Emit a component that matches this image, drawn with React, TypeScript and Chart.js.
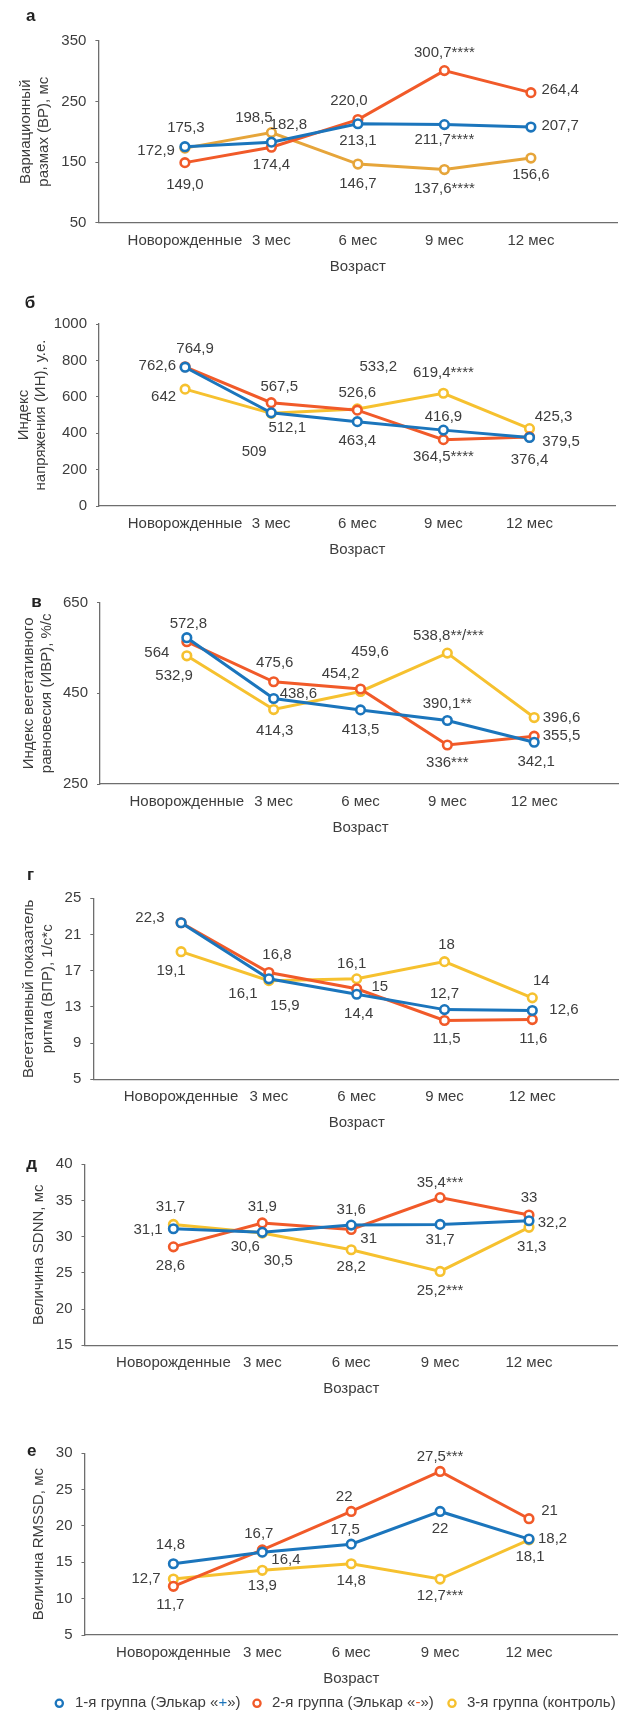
import React, { useEffect, useRef } from 'react';
import { Chart, registerables } from 'chart.js';

Chart.register(...registerables);

// ---------- shared data ----------
const categories = ['Новорожденные', '3 мес', '6 мес', '9 мес', '12 мес'];
const xAxisTitle = 'Возраст';
const groupNames = ['1-я группа (Элькар «+»)', '2-я группа (Элькар «-»)', '3-я группа (контроль)'];

// ---------- panel а: ВР ----------
const vrGroup1 = [175.3, 182.8, 213.1, 211.7, 207.7];
const vrGroup2 = [149.0, 174.4, 220.0, 300.7, 264.4];
const vrGroup3 = [172.9, 198.5, 146.7, 137.6, 156.6];
const vrMarks1 = ['', '', '', '****', ''];
const vrMarks2 = ['', '', '', '****', ''];
const vrMarks3 = ['', '', '', '****', ''];
const vrTicks = [50, 150, 250, 350];

// ---------- panel б: ИН ----------
const inGroup1 = [762.6, 512.1, 463.4, 416.9, 376.4];
const inGroup2 = [764.9, 567.5, 526.6, 364.5, 379.5];
const inGroup3 = [642, 509, 533.2, 619.4, 425.3];
const inMarks1 = ['', '', '', '', ''];
const inMarks2 = ['', '', '', '****', ''];
const inMarks3 = ['', '', '', '****', ''];
const inTicks = [0, 200, 400, 600, 800, 1000];

// ---------- panel в: ИВР ----------
const ivrGroup1 = [572.8, 438.6, 413.5, 390.1, 342.1];
const ivrGroup2 = [564, 475.6, 459.6, 336, 355.5];
const ivrGroup3 = [532.9, 414.3, 454.2, 538.8, 396.6];
const ivrMarks1 = ['', '', '', '**', ''];
const ivrMarks2 = ['', '', '', '***', ''];
const ivrMarks3 = ['', '', '', '**/***', ''];
const ivrTicks = [250, 450, 650];

// ---------- panel г: ВПР ----------
const vprGroup1 = [22.3, 16.1, 14.4, 12.7, 12.6];
const vprGroup2 = [22.3, 16.8, 15, 11.5, 11.6];
const vprGroup3 = [19.1, 15.9, 16.1, 18, 14];
const vprMarks = ['', '', '', '', ''];
const vprTicks = [5, 7, 9, 11, 13, 15, 17, 19, 21, 23, 25];

// ---------- panel д: SDNN ----------
const sdnnGroup1 = [31.1, 30.6, 31.6, 31.7, 32.2];
const sdnnGroup2 = [28.6, 31.9, 31, 35.4, 33];
const sdnnGroup3 = [31.7, 30.5, 28.2, 25.2, 31.3];
const sdnnMarks1 = ['', '', '', '', ''];
const sdnnMarks2 = ['', '', '', '***', ''];
const sdnnMarks3 = ['', '', '', '***', ''];
const sdnnTicks = [15, 20, 25, 30, 35, 40];

// ---------- panel е: RMSSD ----------
const rmssdGroup1 = [14.8, 16.4, 17.5, 22, 18.2];
const rmssdGroup2 = [11.7, 16.7, 22, 27.5, 21];
const rmssdGroup3 = [12.7, 13.9, 14.8, 12.7, 18.1];
const rmssdMarks1 = ['', '', '', '', ''];
const rmssdMarks2 = ['', '', '', '***', ''];
const rmssdMarks3 = ['', '', '', '***', ''];
const rmssdTicks = [5, 10, 15, 20, 25, 30];

// ---------- label placement (dx, dy, align) — styling only ----------
type Place = [number, number, string] | null;
const vrPlace: Place[][] = [
  [[1, -19, 'c'], [17, -17.6, 'c'], [0, 17, 'c'], [0, 15.6, 'c'], [10.5, -1, 'l']],
  [[0, 22, 'c'], [0, 18, 'c'], [-9, -19, 'c'], [0, -17.3, 'c'], [10.5, -3, 'l']],
  [[-10, 2.5, 'r'], [-17.5, -14.3, 'c'], [0, 20, 'c'], [0, 19.3, 'c'], [0, 16.7, 'c']],
];
const inPlace: Place[][] = [
  [[-9, -1.7, 'r'], [16, 15.3, 'c'], [0, 19.3, 'c'], [0, -13, 'c'], [0, 22.7, 'c']],
  [[10, -17.7, 'c'], [8, -16.3, 'c'], [0, -17.3, 'c'], [0, 16.7, 'c'], [12.7, 4.7, 'l']],
  [[-9, 7.3, 'r'], [-17, 38.7, 'c'], [21, -41.7, 'c'], [0, -20.7, 'c'], [24, -11.3, 'c']],
];
const ivrPlace: Place[][] = [
  [[1.6, -14, 'c'], [6, -4.7, 'l'], [0, 20, 'c'], [0, -16.3, 'c'], [2, 20, 'c']],
  [[-17.5, 11.3, 'r'], [1, -19.3, 'c'], [9.5, -36.7, 'c'], [0, 17.7, 'c'], [8.6, 0, 'l']],
  [[-12.7, 20, 'c'], [1, 21.7, 'c'], [-20, -17.3, 'c'], [1, -17.7, 'c'], [8.6, 0, 'l']],
];
const vprPlace: Place[][] = [
  [[-16.6, -5, 'r'], [-26, 15, 'c'], [2, 19.3, 'c'], [0, -15.7, 'c'], [17, -1, 'l']],
  [null, [8, -18, 'c'], [14.7, -1.7, 'l'], [2, 18.7, 'c'], [1, 19.3, 'c']],
  [[-10, 19, 'c'], [16, 25.3, 'c'], [-5, -15, 'c'], [2, -16.7, 'c'], [9, -17.3, 'c']],
];
const sdnnPlace: Place[][] = [
  [[-10.7, 0.7, 'r'], [-17, 15, 'c'], [0, -15, 'c'], [0, 15, 'c'], [8.7, 1.7, 'l']],
  [[-3, 19.3, 'c'], [0, -15.7, 'c'], [17.5, 9, 'c'], [0, -15, 'c'], [0, -16.7, 'c']],
  [[-3, -17.3, 'c'], [16, 27.3, 'c'], [0, 16.7, 'c'], [0, 19, 'c'], [2.7, 20, 'c']],
];
const rmssdPlace: Place[][] = [
  [[-3, -18.7, 'c'], [9, 7.7, 'l'], [-6, -14, 'c'], [0, 17.3, 'c'], [9, 0, 'l']],
  [[-3, 18.7, 'c'], [-3.5, -15.7, 'c'], [-7, -15, 'c'], [0, -15, 'c'], [20.6, -8.3, 'c']],
  [[-12.7, 0, 'r'], [0, 15.7, 'c'], [0, 16.7, 'c'], [0, 16.7, 'c'], [1, 16.7, 'c']],
];

// ---------- styles ----------
const BLUE = '#1b75bc';
const ORANGE = '#f15a29';
const YELLOW = '#f6c12f';
const GOLD = '#e6a53a';
const TEXT = '#3d3d3d';
const AXIS = '#6e6e6e';
const FONT = '"Liberation Sans", Arial, sans-serif';
const FS = 15;

interface Panel {
  letter: string;
  title: string[];
  series: number[][];
  marks: string[][];
  places: Place[][];
  ticks: number[];
  decimals: number;
  colors: string[];
  top: number;
  height: number;
  plotTop: number;
  plotBottom: number;
  plotLeft: number;
  plotRight: number;
  letterX: number;
  letterY: number;
  titleX: number[];
  legendY?: number;
}

const panels: Panel[] = [
  {
    letter: 'а', title: ['Вариационный', 'размах (ВР), мс'],
    series: [vrGroup1, vrGroup2, vrGroup3], marks: [vrMarks1, vrMarks2, vrMarks3], places: vrPlace,
    ticks: vrTicks, decimals: 1, colors: [BLUE, ORANGE, GOLD],
    top: 0, height: 290, plotTop: 40.7, plotBottom: 222.7, plotLeft: 98.4, plotRight: 617.4,
    letterX: 30.7, letterY: 16.7, titleX: [26, 44],
  },
  {
    letter: 'б', title: ['Индекс', 'напряжения (ИН), у.е.'],
    series: [inGroup1, inGroup2, inGroup3], marks: [inMarks1, inMarks2, inMarks3], places: inPlace,
    ticks: inTicks, decimals: -1, colors: [BLUE, ORANGE, YELLOW],
    top: 290, height: 270, plotTop: 324, plotBottom: 506, plotLeft: 99, plotRight: 615.6,
    letterX: 30, letterY: 303.3, titleX: [23.5, 41],
  },
  {
    letter: 'в', title: ['Индекс вегетативного', 'равновесия (ИВР), %/c'],
    series: [ivrGroup1, ivrGroup2, ivrGroup3], marks: [ivrMarks1, ivrMarks2, ivrMarks3], places: ivrPlace,
    ticks: ivrTicks, decimals: -1, colors: [BLUE, ORANGE, YELLOW],
    top: 560, height: 290, plotTop: 602.7, plotBottom: 784, plotLeft: 100, plotRight: 624.6,
    letterX: 36.5, letterY: 602.3, titleX: [28.5, 47],
  },
  {
    letter: 'г', title: ['Вегетативный показатель', 'ритма (ВПР), 1/с*с'],
    series: [vprGroup1, vprGroup2, vprGroup3], marks: [vprMarks, vprMarks, vprMarks], places: vprPlace,
    ticks: vprTicks, decimals: -1, colors: [BLUE, ORANGE, YELLOW],
    top: 850, height: 280, plotTop: 898.3, plotBottom: 1079.3, plotLeft: 93.3, plotRight: 620.1,
    letterX: 30.5, letterY: 875, titleX: [28.5, 48],
  },
  {
    letter: 'д', title: ['Величина SDNN, мс'],
    series: [sdnnGroup1, sdnnGroup2, sdnnGroup3], marks: [sdnnMarks1, sdnnMarks2, sdnnMarks3], places: sdnnPlace,
    ticks: sdnnTicks, decimals: -1, colors: [BLUE, ORANGE, YELLOW],
    top: 1130, height: 290, plotTop: 1164.3, plotBottom: 1345.3, plotLeft: 84.5, plotRight: 617.9,
    letterX: 31.7, letterY: 1164.3, titleX: [39],
  },
  {
    letter: 'е', title: ['Величина RMSSD, мс'],
    series: [rmssdGroup1, rmssdGroup2, rmssdGroup3], marks: [rmssdMarks1, rmssdMarks2, rmssdMarks3], places: rmssdPlace,
    ticks: rmssdTicks, decimals: -1, colors: [BLUE, ORANGE, YELLOW],
    top: 1420, height: 293, plotTop: 1453.3, plotBottom: 1635, plotLeft: 84.5, plotRight: 617.9,
    letterX: 31.7, letterY: 1451.7, titleX: [39], legendY: 1703.3,
  },
];

const CANVAS_W = 630;

function fmt(v: number, decimals: number): string {
  const s = decimals >= 0 ? v.toFixed(decimals) : String(v);
  return s.replace('.', ',');
}

function makePlugin(p: Panel) {
  return {
    id: 'panelText',
    afterDatasetsDraw(chart: any) {
      const ctx: CanvasRenderingContext2D = chart.ctx;
      ctx.save();
      // data labels
      ctx.font = `${FS}px ${FONT}`;
      ctx.fillStyle = TEXT;
      ctx.textBaseline = 'middle';
      p.series.forEach((vals, di) => {
        const meta = chart.getDatasetMeta(di);
        vals.forEach((v, k) => {
          const place = p.places[di][k];
          if (!place) return;
          const el = meta.data[k + 1];
          if (!el) return;
          ctx.textAlign = place[2] === 'l' ? 'left' : place[2] === 'r' ? 'right' : 'center';
          ctx.fillText(fmt(v, p.decimals) + p.marks[di][k], el.x + place[0], el.y + place[1]);
        });
      });
      // panel letter
      ctx.font = `bold 17px ${FONT}`;
      ctx.fillStyle = '#222';
      ctx.textAlign = 'center';
      ctx.fillText(p.letter, p.letterX, p.letterY - p.top);
      // x axis title
      const xs = chart.scales.x;
      ctx.font = `${FS}px ${FONT}`;
      ctx.fillStyle = TEXT;
      ctx.fillText(xAxisTitle, xs.getPixelForValue(3), p.plotBottom + 44 - p.top);
      // y axis title
      const yc = (p.plotTop + p.plotBottom) / 2 - p.top;
      p.title.forEach((line, i) => {
        ctx.save();
        ctx.translate(p.titleX[i], yc);
        ctx.rotate(-Math.PI / 2);
        ctx.textAlign = 'center';
        ctx.fillText(line, 0, 0);
        ctx.restore();
      });
      // legend
      if (p.legendY !== undefined) {
        const ly = p.legendY - p.top;
        const items = [
          { color: BLUE, mx: 59.3, tx: 75, parts: ['1-я группа (Элькар «', '+', '»)'] },
          { color: ORANGE, mx: 257, tx: 272, parts: ['2-я группа (Элькар «', '-', '»)'] },
          { color: YELLOW, mx: 452, tx: 467, parts: [groupNames[2]] },
        ];
        ctx.textAlign = 'left';
        items.forEach((it) => {
          ctx.beginPath();
          ctx.arc(it.mx, ly, 3.6, 0, Math.PI * 2);
          ctx.fillStyle = '#fff';
          ctx.fill();
          ctx.lineWidth = 2.3;
          ctx.strokeStyle = it.color;
          ctx.stroke();
          let x = it.tx;
          it.parts.forEach((part, j) => {
            ctx.fillStyle = j === 1 ? it.color : TEXT;
            ctx.fillText(part, x, ly);
            x += ctx.measureText(part).width;
          });
        });
      }
      ctx.restore();
    },
  };
}

function buildConfig(p: Panel): any {
  const labels = ['', ...categories, ''];
  const datasets = p.series.map((vals, i) => ({
    label: groupNames[i],
    data: [null, ...vals, null],
    borderColor: p.colors[i],
    backgroundColor: '#ffffff',
    pointBackgroundColor: '#ffffff',
    pointBorderColor: p.colors[i],
    pointRadius: 4.3,
    pointHoverRadius: 4.3,
    pointBorderWidth: 2.6,
    borderWidth: 3,
    tension: 0,
    spanGaps: false,
    clip: false,
  }));
  const t = p.ticks;
  return {
    type: 'line',
    data: { labels, datasets },
    options: {
      responsive: false,
      animation: false,
      devicePixelRatio: 1,
      events: [],
      layout: {
        padding: { left: 0, top: p.plotTop - p.top, right: CANVAS_W - p.plotRight, bottom: 0 },
      },
      plugins: { legend: { display: false }, tooltip: { enabled: false }, title: { display: false } },
      scales: {
        x: {
          type: 'category',
          offset: false,
          grid: { display: false, drawTicks: false },
          border: { display: true, color: AXIS, width: 1.3 },
          ticks: {
            autoSkip: false, maxRotation: 0, minRotation: 0, padding: 9,
            color: TEXT, font: { family: FONT, size: FS },
          },
          afterFit: (s: any) => { s.height = p.top + p.height - p.plotBottom; },
        },
        y: {
          min: t[0],
          max: t[t.length - 1],
          grid: { display: true, drawOnChartArea: false, drawTicks: true, tickLength: 3, color: AXIS, lineWidth: 1 },
          border: { display: true, color: AXIS, width: 1.3 },
          ticks: {
            stepSize: t[1] - t[0], padding: 9, color: TEXT,
            font: { family: FONT, size: FS },
            callback: (v: any) => String(v),
          },
          afterFit: (s: any) => { s.width = p.plotLeft; },
        },
      },
    },
    plugins: [makePlugin(p)],
  };
}

export default function App() {
  const refs = useRef<(HTMLCanvasElement | null)[]>([]);
  useEffect(() => {
    const charts = panels.map((p, i) => new Chart(refs.current[i] as HTMLCanvasElement, buildConfig(p)));
    return () => charts.forEach((c) => c.destroy());
  }, []);
  return (
    <div style={{ position: 'absolute', left: 0, top: 0, width: 619, height: 1713, overflow: 'hidden', background: '#fff' }}>
      {panels.map((p, i) => (
        <canvas
          key={i}
          ref={(el) => { refs.current[i] = el; }}
          width={CANVAS_W}
          height={p.height}
          style={{ position: 'absolute', left: 0, top: p.top, width: CANVAS_W, height: p.height }}
        />
      ))}
    </div>
  );
}
